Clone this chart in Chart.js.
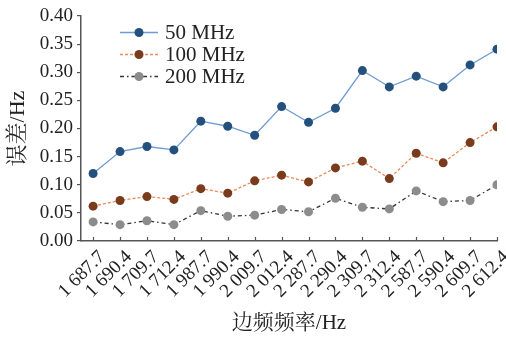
<!DOCTYPE html>
<html>
<head>
<meta charset="utf-8">
<script src="https://cdn.jsdelivr.net/npm/chart.js@4.4.1/dist/chart.umd.min.js"></script>
<style>
html,body{margin:0;padding:0;background:#fff;}
#wrap{width:506px;height:337px;position:relative;}
</style>
</head>
<body>
<div id="wrap"><canvas id="c" width="506" height="337"></canvas></div>
<script>
const categories = ["1 687.7","1 690.4","1 709.7","1 712.4","1 987.7","1 990.4","2 009.7","2 012.4","2 287.7","2 290.4","2 309.7","2 312.4","2 587.7","2 590.4","2 609.7","2 612.4"];
const seriesNames = ["50 MHz","100 MHz","200 MHz"];
const s50  = [0.120,0.159,0.168,0.162,0.213,0.204,0.188,0.239,0.211,0.236,0.303,0.274,0.293,0.274,0.313,0.341];
const s100 = [0.062,0.072,0.079,0.074,0.093,0.085,0.107,0.117,0.105,0.130,0.142,0.111,0.156,0.139,0.175,0.203];
const s200 = [0.034,0.029,0.036,0.029,0.054,0.044,0.046,0.056,0.052,0.076,0.060,0.057,0.089,0.070,0.072,0.100];
const yTicks = [0.00,0.05,0.10,0.15,0.20,0.25,0.30,0.35,0.40];

const serif = "'Liberation Serif','Noto Serif CJK SC','Noto Sans CJK SC',serif";
const toXY = arr => arr.map((v,i)=>({x:i,y:v}));

const styles = [
  {line:'#6d9bd1', point:'#24507e', dash:[]},
  {line:'#e98a57', point:'#7a3b1d', dash:[3,2]},
  {line:'#333333', point:'#8c8c8c', dash:[4,3,1.5,3]}
];
const dataSets = [s50,s100,s200].map((arr,k)=>({
  label: seriesNames[k],
  data: toXY(arr),
  borderColor: styles[k].line,
  borderWidth: 1.3,
  borderDash: styles[k].dash,
  pointBackgroundColor: styles[k].point,
  pointBorderColor: styles[k].point,
  pointRadius: 4.5,
  pointBorderWidth: 0,
  tension: 0,
  fill: false
}));

const extras = {
  id:'extras',
  afterDraw(chart){
    const ctx = chart.ctx;
    const xs = chart.scales.x, ys = chart.scales.y;
    ctx.save();
    ctx.strokeStyle = '#555';
    ctx.lineWidth = 1.2;
    const yb = ys.getPixelForValue(0);
    for(let i=0;i<categories.length;i++){
      const px = Math.round(xs.getPixelForValue(i))+0.5;
      ctx.beginPath(); ctx.moveTo(px,yb); ctx.lineTo(px,yb-4); ctx.stroke();
    }
    const lx0 = 120, lx1 = 158, tx = 165;
    const rows = [32.5,54.5,76.5];
    chart.data.datasets.forEach((ds,k)=>{
      const y = rows[k];
      ctx.strokeStyle = ds.borderColor;
      ctx.lineWidth = 1.3;
      ctx.setLineDash(ds.borderDash);
      ctx.beginPath(); ctx.moveTo(lx0,y); ctx.lineTo(lx1,y); ctx.stroke();
      ctx.setLineDash([]);
      ctx.fillStyle = ds.pointBackgroundColor;
      ctx.beginPath(); ctx.arc((lx0+lx1)/2,y,4.5,0,Math.PI*2); ctx.fill();
      ctx.fillStyle = '#222';
      ctx.font = "21px " + serif;
      ctx.textAlign = 'left';
      ctx.textBaseline = 'middle';
      ctx.fillText(ds.label, tx, y+1);
    });
    ctx.restore();
  }
};

new Chart(document.getElementById('c'), {
  type:'line',
  data:{datasets:dataSets},
  options:{
    responsive:false,
    animation:false,
    layout:{padding:{top:16,right:9,left:0,bottom:0}},
    plugins:{legend:{display:false},tooltip:{enabled:false}},
    scales:{
      x:{
        type:'linear',
        min:-0.45, max:15,
        afterBuildTicks(scale){ scale.ticks = categories.map((c,i)=>({value:i})); },
        afterFit(scale){ scale.height = 96; scale.paddingLeft = 0; scale.paddingRight = 0; },
        ticks:{
          autoSkip:false,
          maxRotation:45, minRotation:45,
          color:'#222',
          font:{family:serif,size:19},
          padding:5,
          labelOffset:9,
          callback:(v)=>categories[v]
        },
        grid:{display:true, drawOnChartArea:false, drawTicks:false, tickLength:0},
        border:{display:true,color:'#555',width:1.5},
        title:{display:true,text:'边频频率/Hz',color:'#222',font:{family:serif,size:21},padding:{top:0,bottom:1}}
      },
      y:{
        min:0, max:0.4,
        afterBuildTicks(scale){ scale.ticks = yTicks.map(v=>({value:v})); },
        afterFit(scale){ scale.width = 81; scale.paddingTop = 0; scale.paddingBottom = 0; },
        ticks:{
          color:'#222',
          font:{family:serif,size:19},
          padding:4,
          callback:(v)=>v.toFixed(2)
        },
        grid:{display:true,drawOnChartArea:false,tickLength:4,color:'#555',lineWidth:1.2},
        border:{display:true,color:'#555',width:1.5},
        title:{display:true,text:'误差/Hz',color:'#222',font:{family:serif,size:22},padding:{top:5,bottom:0}}
      }
    }
  },
  plugins:[extras]
});
</script>
</body>
</html>
